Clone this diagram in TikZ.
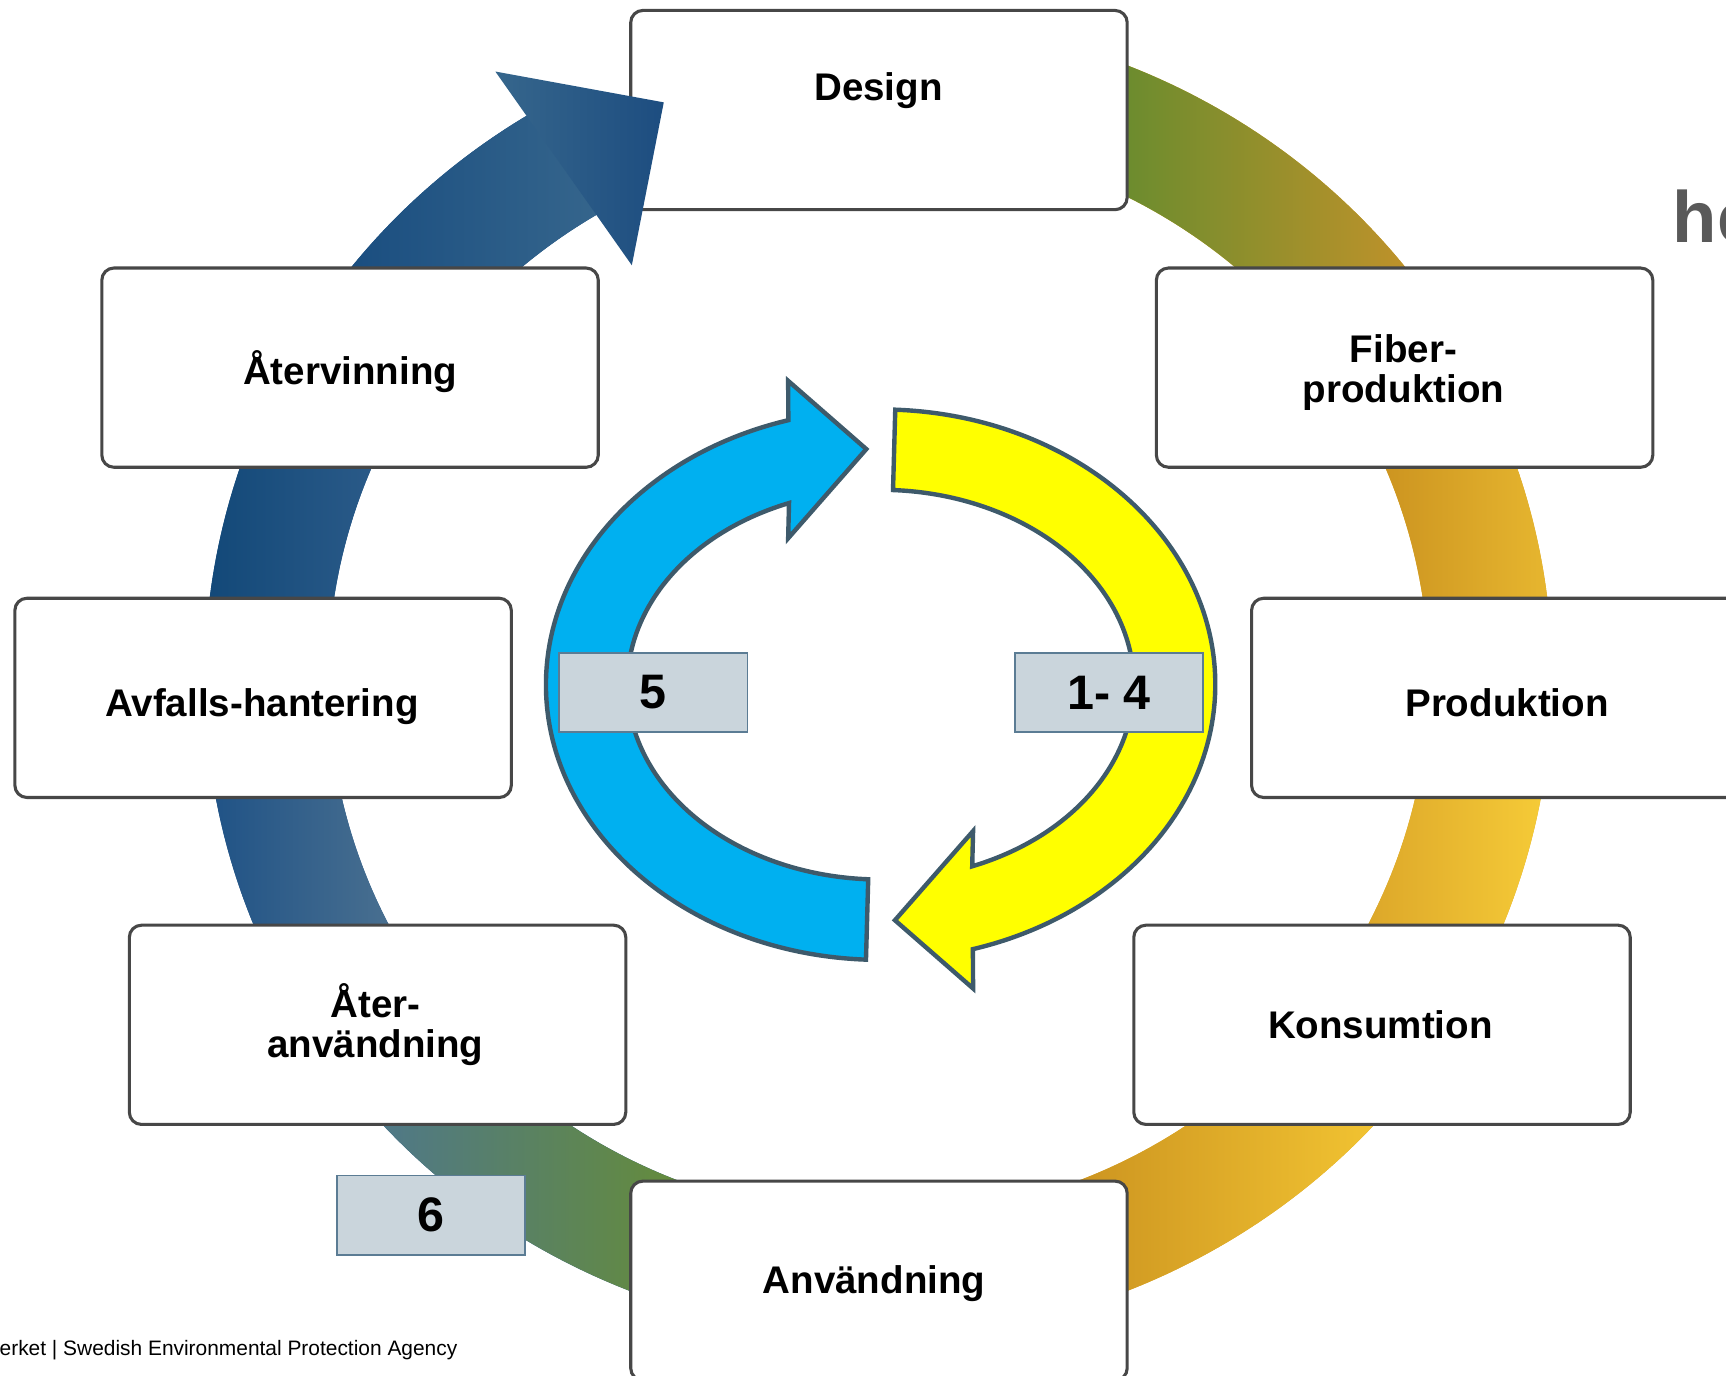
\documentclass[tikz,border=0pt]{standalone}
\usepackage{fontspec}
\setmainfont{Liberation Sans}
\definecolor{boxline}{HTML}{474747}
\definecolor{numfill}{HTML}{CAD5DC}
\definecolor{numline}{HTML}{5B7C94}
\definecolor{arrline}{HTML}{3E5A6B}
\definecolor{cyanarr}{HTML}{00B0F0}
\definecolor{yellowarr}{HTML}{FFFF00}
\definecolor{hgray}{HTML}{595959}
\definecolor{baseblue}{HTML}{1F5284}
\definecolor{baseochre}{HTML}{D9A62A}
\begin{document}
\begin{tikzpicture}[x=1pt,y=1pt,
  box/.style={draw=boxline, line width=2.8, fill=white, rounded corners=11, minimum width=451, minimum height=181, inner sep=0},
  boxtext/.style={anchor=base, font=\fontsize{35}{37}\selectfont\bfseries, inner sep=0, text=black},
  numbox/.style={draw=numline, line width=1.5, fill=numfill, minimum width=171, minimum height=72, inner sep=0, font=\fontsize{44}{48}\selectfont\bfseries},
  innerarrow/.style={draw=arrline, line width=4, line join=miter}
]
\useasboundingbox (0,0) rectangle (1568,1250);
\begin{scope}
\clip (0,0) rectangle (1568,1250);
% ---- big gradient ring ----
\begin{scope}
\clip (798,634) ++(120:612 and 599) arc[start angle=120,end angle=460,x radius=612,y radius=599] -- ++(460:-112 and -109) arc[start angle=460,end angle=120,x radius=500,y radius=490] -- cycle;
\fill[baseblue] (0,0) rectangle (798,1250);
\fill[baseochre] (798,0) rectangle (1568,1250);
\shade[left color={rgb,255:red,107;green,140;blue,46}, right color={rgb,255:red,192;green,146;blue,42}] (1020,916) rectangle (1284,1250);
\shade[left color={rgb,255:red,204;green,148;blue,32}, right color={rgb,255:red,232;green,184;blue,48}] (1255,616) rectangle (1415,916);
\shade[left color={rgb,255:red,221;green,168;blue,42}, right color={rgb,255:red,247;green,205;blue,56}] (1245,319) rectangle (1412,616);
\shade[left color={rgb,255:red,204;green,148;blue,32}, right color={rgb,255:red,242;green,196;blue,50}] (975,0) rectangle (1255,319);
\shade[left color={rgb,255:red,79;green,120;blue,136}, right color={rgb,255:red,101;green,140;blue,58}] (345,0) rectangle (620,319);
\shade[left color={rgb,255:red,31;green,82;blue,134}, right color={rgb,255:red,74;green,112;blue,144}] (188,319) rectangle (360,616);
\shade[left color={rgb,255:red,18;green,72;blue,120}, right color={rgb,255:red,42;green,90;blue,136}] (185,616) rectangle (340,916);
\shade[left color={rgb,255:red,24;green,76;blue,127}, right color={rgb,255:red,60;green,107;blue,143}] (300,916) rectangle (600,1250);
\end{scope}
% ---- boxes ----
\node[box] (design) at (798.5,1150) {};
\node[box] (fiber) at (1276,916) {};
\node[box] (prod) at (1362.5,616) {};
\node[box] (kons) at (1255.5,319) {};
\node[box] (anv) at (798.5,86.5) {};
\node[box] (ateranv) at (343,319) {};
\node[box] (avf) at (239,616) {};
\node[box] (aterv) at (318,916) {};
% ---- box texts ----
\node[boxtext] (t-design) at (798,1159) {Design};
\node[boxtext] (t-fiber) at (1275,921) {\begin{tabular}[t]{@{}c@{}}Fiber-\\produktion\end{tabular}};
\node[boxtext] (t-prod) at (1369,599) {Produktion};
\node[boxtext] (t-kons) at (1254,307) {Konsumtion};
\node[boxtext] (t-anv) at (794,75) {Användning};
\node[boxtext] (t-ateranv) at (341,326) {\begin{tabular}[t]{@{}c@{}}Åter-\\användning\end{tabular}};
\node[boxtext] (t-avf) at (238,599) {Avfalls-hantering};
\node[boxtext] (t-aterv) at (318,901) {Återvinning};
% ---- big arrowhead ----
\shade[left color={rgb,255:red,54;green,102;blue,140}, right color={rgb,255:red,29;green,77;blue,128}] (450,1185) -- (603,1157) -- (574,1009) -- cycle;
% ---- inner arrows ----
\filldraw[innerarrow, fill=cyanarr] (786.7,378.2) arc[start angle=267.5,end angle=106,x radius=304,y radius=250] -- (716,904) -- (787,842) -- (716,761) -- (716.8,793.0) arc[start angle=111.2,end angle=267.2,x radius=230,y radius=177] -- cycle;
\filldraw[innerarrow, fill=yellowarr] (813.3,877.8) arc[start angle=87.5,end angle=-74,x radius=304,y radius=250] -- (884,352) -- (813,414) -- (884,495) -- (883.2,463.0) arc[start angle=-68.8,end angle=87.2,x radius=230,y radius=177] -- cycle;
% ---- number labels ----
\node[numbox] (n5) at (593.5,621) {5};
\node[numbox] (n14) at (1007.5,621) {1- 4};
\node[numbox] (n6) at (391.5,146) {6};
% ---- other texts ----
\node[anchor=base west, inner sep=0, font=\fontsize{66}{70}\selectfont\bfseries, text=hgray] (h) at (1519.5,1030) {he};
\node[anchor=base west, inner sep=0, font=\fontsize{19}{22}\selectfont] (footer) at (-0.5,19) {erket | Swedish Environmental Protection Agency};
\end{scope}
\end{tikzpicture}
\end{document}
